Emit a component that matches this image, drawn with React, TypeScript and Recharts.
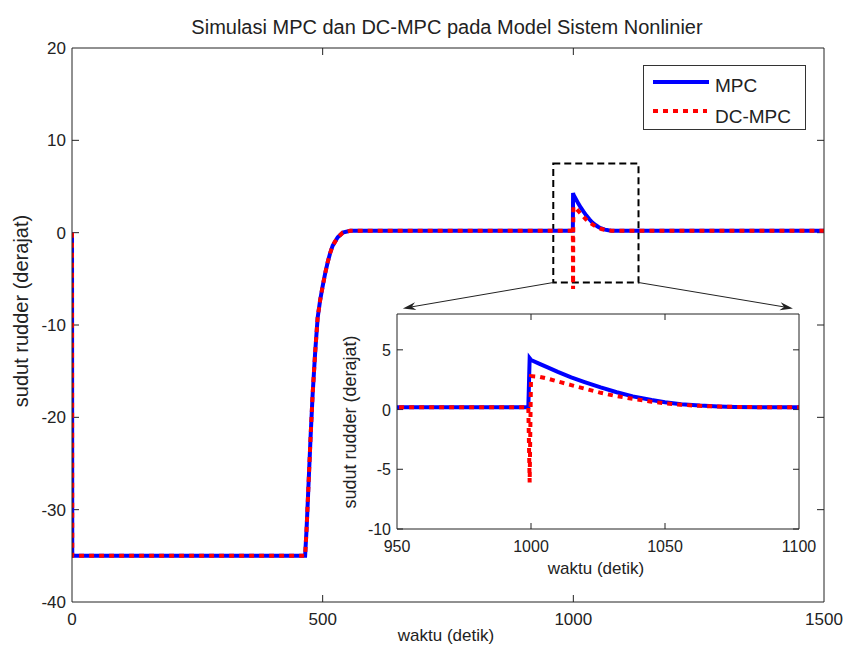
import {
  CartesianGrid,
  Legend,
  Line,
  LineChart,
  ReferenceArea,
  ReferenceLine,
  XAxis,
  YAxis,
} from "recharts";

// waktu (detik)
const TIME = [
  0, 0.5, 465, 468, 472, 476, 480, 485, 490, 495, 500, 505, 510, 515, 520, 530, 540, 555, 570,
  999, 999.5, 1000, 1003, 1006, 1010, 1015, 1020, 1026, 1032, 1038, 1045, 1050, 1056, 1063, 1070,
  1076, 1085, 1500,
];
// sudut rudder (derajat)
const MPC = [
  0, -35, -35, -32, -27, -22, -17.5, -13, -9.2, -7.3, -5.8, -4.4, -3.2, -2.2, -1.4, -0.5, 0, 0.2, 0.2,
  0.2, 4.3, 4.15, 3.85, 3.55, 3.15, 2.7, 2.3, 1.85, 1.45, 1.1, 0.8, 0.62, 0.45, 0.33, 0.26,
  0.22, 0.2, 0.2,
];
const DC_MPC = [
  0, -35, -35, -32, -27, -22, -17.5, -13, -9.2, -7.3, -5.8, -4.4, -3.2, -2.2, -1.4, -0.5, 0, 0.2, 0.2,
  0.2, -6.1, 2.8, 2.75, 2.6, 2.35, 2.05, 1.75, 1.4, 1.12, 0.9, 0.66, 0.52, 0.4, 0.31, 0.25,
  0.22, 0.2, 0.2,
];

const MAIN_X_TICKS = [0, 500, 1000, 1500];
const MAIN_Y_TICKS = [-40, -30, -20, -10, 0, 10, 20];
const ZOOM_X_TICKS = [950, 1000, 1050, 1100];
const ZOOM_Y_TICKS = [-10, -5, 0, 5];

// kotak zoom dan panah ke inset (koordinat data grafik utama)
const ZOOM_BOX = { x1: 960, x2: 1130, y1: -5.4, y2: 7.5 };
const ARROWS = [
  { from: { x: 960, y: -5.4 }, to: { x: 660, y: -8.2 } },
  { from: { x: 1130, y: -5.4 }, to: { x: 1438, y: -8.2 } },
];

const data = TIME.map((t, i) => ({ t, mpc: MPC[i], dc: DC_MPC[i] }));

const FONT = "'Liberation Sans', Arial, sans-serif";
const INK = "#222";
const BLUE = "#0000ff";
const RED = "#ff0000";

type TickProps = { x?: number; y?: number; payload?: { value: number } };
type SegProps = { x1?: number; y1?: number; x2?: number; y2?: number };

const bottomLabel = (fs: number, dy: number) => (p: TickProps) => (
  <text x={p.x} y={(p.y ?? 0) + dy} textAnchor="middle" fontSize={fs} fill={INK} fontFamily={FONT}>
    {p.payload?.value}
  </text>
);

const leftLabel = (fs: number) => (p: TickProps) => (
  <text x={(p.x ?? 0) - 6} y={(p.y ?? 0) + 6} textAnchor="end" fontSize={fs} fill={INK} fontFamily={FONT}>
    {p.payload?.value}
  </text>
);

// tanda tick ke dalam di kedua ujung garis referensi (gaya MATLAB)
const tickMarks = (len: number) => (p: SegProps) => {
  const x1 = p.x1 ?? 0, y1 = p.y1 ?? 0, x2 = p.x2 ?? 0, y2 = p.y2 ?? 0;
  const d = Math.hypot(x2 - x1, y2 - y1) || 1;
  const ux = ((x2 - x1) / d) * len, uy = ((y2 - y1) / d) * len;
  return (
    <g>
      <line x1={x1} y1={y1} x2={x1 + ux} y2={y1 + uy} stroke={INK} />
      <line x1={x2} y1={y2} x2={x2 - ux} y2={y2 - uy} stroke={INK} />
    </g>
  );
};

function Arrow(p: SegProps) {
  const x1 = p.x1 ?? 0, y1 = p.y1 ?? 0, x2 = p.x2 ?? 0, y2 = p.y2 ?? 0;
  const a = Math.atan2(y2 - y1, x2 - x1);
  const L = 13, W = 4;
  const bx = x2 - L * Math.cos(a), by = y2 - L * Math.sin(a);
  const nx = -Math.sin(a) * W, ny = Math.cos(a) * W;
  const mx = bx + 4 * Math.cos(a), my = by + 4 * Math.sin(a);
  return (
    <g>
      <line x1={x1} y1={y1} x2={mx} y2={my} stroke={INK} strokeWidth={1} />
      <polygon points={`${x2},${y2} ${bx + nx},${by + ny} ${mx},${my} ${bx - nx},${by - ny}`} fill={INK} />
    </g>
  );
}

function LegendBox() {
  return (
    <svg width={163} height={66} style={{ display: "block" }}>
      <rect x={0.5} y={0.5} width={162} height={64} fill="#fff" stroke="#333" />
      <line x1={10} x2={66} y1={17} y2={17} stroke={BLUE} strokeWidth={4} />
      <text x={72} y={27} fontSize={19} fill={INK} fontFamily={FONT}>MPC</text>
      <line x1={10} x2={64} y1={46} y2={46} stroke={RED} strokeWidth={4} strokeDasharray="5 5" />
      <text x={72} y={58} fontSize={19} fill={INK} fontFamily={FONT}>DC-MPC</text>
    </svg>
  );
}

function frameAxes(xDomain: number[], yDomain: number[], xTicks: number[], yTicks: number[], fs: number, yWidth: number) {
  return [
    <XAxis
      key="xb"
      dataKey="t"
      type="number"
      domain={xDomain}
      ticks={xTicks}
      height={40}
      tickSize={0}
      tickMargin={0}
      tickLine={false}
      axisLine={{ stroke: INK }}
      tick={bottomLabel(fs, 23)}
      allowDataOverflow
    />,
    <XAxis
      key="xt"
      xAxisId="top"
      orientation="top"
      type="number"
      domain={xDomain}
      height={1}
      tick={false}
      tickLine={false}
      axisLine={{ stroke: INK }}
    />,
    <YAxis
      key="yl"
      type="number"
      domain={yDomain}
      ticks={yTicks}
      width={yWidth}
      tickSize={0}
      tickMargin={0}
      tickLine={false}
      axisLine={{ stroke: INK }}
      tick={leftLabel(fs)}
      allowDataOverflow
    />,
    <YAxis
      key="yr"
      yAxisId="right"
      orientation="right"
      type="number"
      domain={yDomain}
      width={1}
      tick={false}
      tickLine={false}
      axisLine={{ stroke: INK }}
    />,
  ];
}

export default function App() {
  return (
    <div
      style={{
        position: "absolute",
        left: 0,
        top: 0,
        width: 845,
        height: 646,
        background: "#fff",
        fontFamily: FONT,
      }}
    >
      <LineChart width={845} height={646} data={data} margin={{ top: 47, right: 20, bottom: 4, left: 10 }}>
        {frameAxes([0, 1500], [-40, 20], MAIN_X_TICKS, MAIN_Y_TICKS, 17, 62)}
        {MAIN_X_TICKS.slice(1, -1).map((v) => (
          <ReferenceLine key={`x${v}`} x={v} shape={tickMarks(7)} />
        ))}
        {MAIN_Y_TICKS.slice(1, -1).map((v) => (
          <ReferenceLine key={`y${v}`} y={v} shape={tickMarks(7)} />
        ))}
        <Line dataKey="mpc" stroke={BLUE} strokeWidth={4} dot={false} isAnimationActive={false} />
        <Line
          dataKey="dc"
          stroke={RED}
          strokeWidth={4}
          strokeDasharray="5 5"
          dot={false}
          isAnimationActive={false}
        />
        <ReferenceArea
          x1={ZOOM_BOX.x1}
          x2={ZOOM_BOX.x2}
          y1={ZOOM_BOX.y1}
          y2={ZOOM_BOX.y2}
          fill="none"
          stroke="#000"
          strokeWidth={2}
          strokeDasharray="7 4"
        />
        {ARROWS.map((a, i) => (
          <ReferenceLine key={i} segment={[a.from, a.to]} shape={Arrow} />
        ))}
        <Legend
          layout="horizontal"
          verticalAlign="middle"
          align="center"
          wrapperStyle={{ left: 643, top: 65, width: 163, height: 66 }}
          content={() => <LegendBox />}
        />
        <text x={447} y={34} textAnchor="middle" fontSize={20} fill={INK} fontFamily={FONT}>
          Simulasi MPC dan DC-MPC pada Model Sistem Nonlinier
        </text>
        <text x={446} y={641} textAnchor="middle" fontSize={17} fill={INK} fontFamily={FONT}>
          waktu (detik)
        </text>
        <text
          transform="translate(28,311) rotate(-90)"
          textAnchor="middle"
          fontSize={20}
          fill={INK}
          fontFamily={FONT}
        >
          sudut rudder (derajat)
        </text>
      </LineChart>

      <div style={{ position: "absolute", left: 330, top: 300 }}>
        <LineChart width={510} height={300} data={data} margin={{ top: 13, right: 40, bottom: 31, left: 0 }}>
          <CartesianGrid horizontal={false} vertical={false} fill="#fff" />
          {frameAxes([950, 1100], [-10, 8], ZOOM_X_TICKS, ZOOM_Y_TICKS, 16, 67)}
          {ZOOM_X_TICKS.slice(1, -1).map((v) => (
            <ReferenceLine key={`x${v}`} x={v} shape={tickMarks(6)} />
          ))}
          {ZOOM_Y_TICKS.map((v) => (
            <ReferenceLine key={`y${v}`} y={v} shape={tickMarks(6)} />
          ))}
          <Line dataKey="mpc" stroke={BLUE} strokeWidth={4} dot={false} isAnimationActive={false} />
          <Line
            dataKey="dc"
            stroke={RED}
            strokeWidth={4}
            strokeDasharray="5 5"
            dot={false}
            isAnimationActive={false}
          />
          <text x={266} y={274} textAnchor="middle" fontSize={17} fill={INK} fontFamily={FONT}>
            waktu (detik)
          </text>
          <text
            transform="translate(26,122) rotate(-90)"
            textAnchor="middle"
            fontSize={18}
            fill={INK}
            fontFamily={FONT}
          >
            sudut rudder (derajat)
          </text>
        </LineChart>
      </div>
    </div>
  );
}
